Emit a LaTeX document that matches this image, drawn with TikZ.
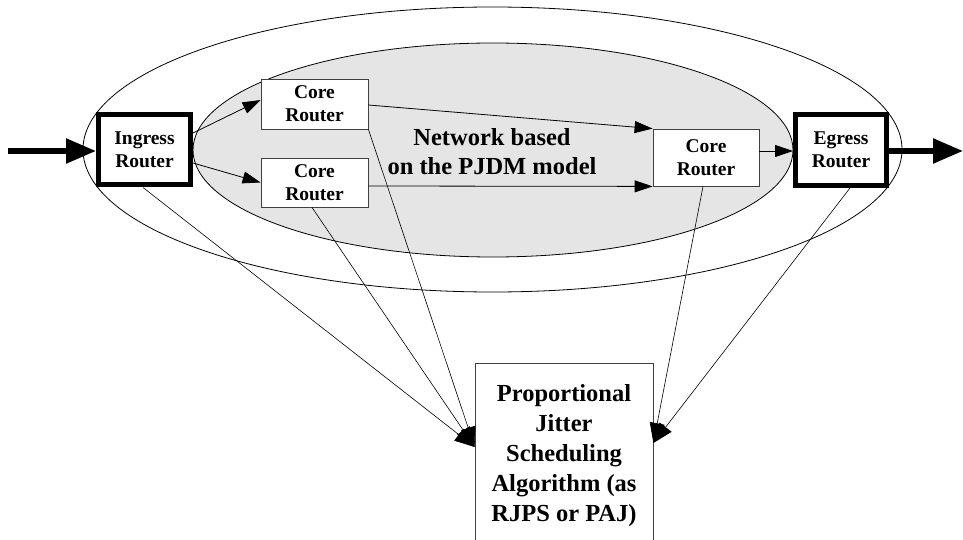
\documentclass[tikz,border=0pt]{standalone}
\usepackage{fontspec}
\setmainfont{Liberation Serif}
\usetikzlibrary{arrows.meta,calc}
\begin{document}
\begin{tikzpicture}[x=1pt,y=-1pt,
  router/.style={draw=black!75, line width=0.8pt, fill=white, align=center, inner sep=0pt,
    font=\fontsize{19.5}{23}\selectfont\bfseries},
  edgerouter/.style={router, draw=black, line width=5pt},
  bigarrow/.style={line width=5.5pt, -{Triangle[length=30pt,width=24pt]}},
  flow/.style={line width=0.8pt, -{Triangle[length=18pt,width=12pt]}},
  ctrl/.style={line width=0.6pt, -{Triangle[length=20pt,width=15pt]}},
  biglabel/.style={align=center, font=\fontsize{24.5}{29}\selectfont\bfseries}]
\useasboundingbox (0,0) rectangle (963,540);
% ellipses
\draw[line width=0.8pt] (492.5,149.5) ellipse [x radius=409.5, y radius=142.5];
\draw[line width=0.8pt, fill=black!10] (493,150) ellipse [x radius=300, y radius=107];
% routers
\node[edgerouter, minimum width=92pt, minimum height=70pt] (ingress) at (144.5,150) {Ingress\\Router};
\node[edgerouter, minimum width=91pt, minimum height=71pt] (egress) at (841,150) {Egress\\Router};
\node[router, minimum width=107pt, minimum height=50pt] (core1) at (314.5,104) {Core\\Router};
\node[router, minimum width=107pt, minimum height=49pt] (core2) at (314.5,182.5) {Core\\Router};
\node[router, minimum width=106pt, minimum height=57pt] (core3) at (706,157.5) {Core\\Router};
\node[biglabel] (net) at (492,152) {Network based\\on the PJDM model};
% scheduler box
\node[draw=black!75, line width=0.8pt, fill=white, align=center, inner sep=0pt,
  minimum width=178pt, minimum height=186pt,
  font=\fontsize{24.5}{30}\selectfont\bfseries] (pjs) at (564,456)
  {Proportional\\Jitter\\Scheduling\\Algorithm (as\\RJPS or PAJ)};
% outside arrows
\coordinate (in) at (8,151);
\coordinate (out) at (963,151);
\draw[bigarrow] (in) -- (ingress.west |- in);
\draw[bigarrow] (egress.east |- out) -- (out);
% flows
\draw[flow] ($(ingress.east)+(0,-17)$) -- ($(core1.west)+(0,-4)$);
\draw[flow] ($(ingress.east)+(0,13)$) -- (core2.west);
\draw[flow] ($(core1.east)+(0,1)$) -- (core3.north west);
\draw[flow] ($(core2.east)+(0,3.5)$) -- (core3.south west);
\draw[flow] ($(core3.east)+(0,-6.5)$) -- ($(egress.west)+(0,1)$);
% control lines
\coordinate (ltip) at ($(pjs.west)+(0,-9)$);
\coordinate (rtip) at ($(pjs.east)+(0,-13)$);
\draw[ctrl] ($(ingress.south)+(-1.5,0)$) -- (ltip);
\draw[ctrl] ($(core2.south)+(-2.5,0)$) -- (ltip);
\draw[ctrl] (core1.south east) -- (ltip);
\draw[ctrl] ($(core3.south)+(-3,0)$) -- (rtip);
\draw[ctrl] ($(egress.south)+(9,0)$) -- (rtip);
\end{tikzpicture}
\end{document}
